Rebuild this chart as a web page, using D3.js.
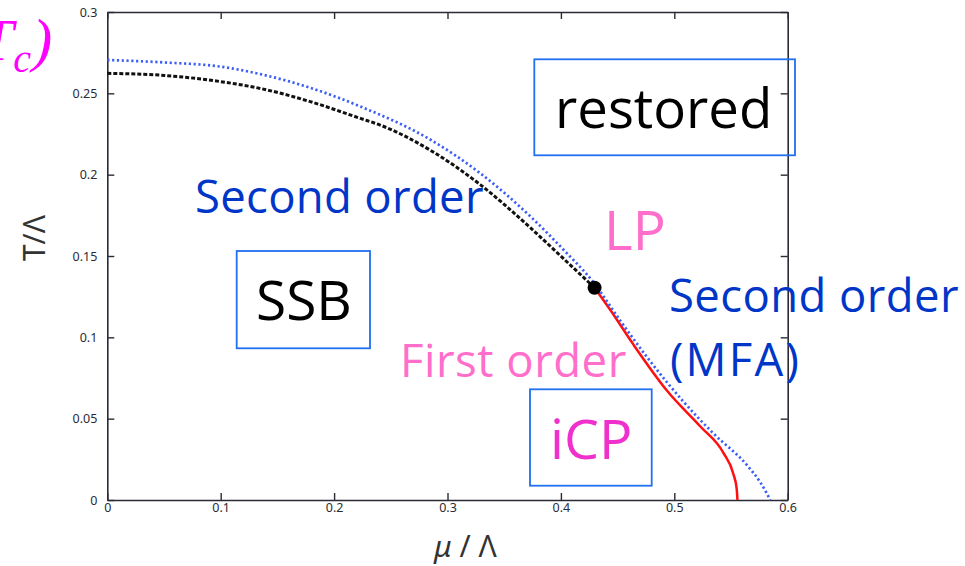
<!DOCTYPE html>
<html>
<head>
<meta charset="utf-8">
<script src="https://cdn.jsdelivr.net/npm/d3@7"></script>
<style>
  html, body { margin: 0; padding: 0; background: #fff; }
  svg { display: block; }
</style>
</head>
<body>
<svg id="chart" width="965" height="566"></svg>
<script>
// Axis ticks
const muTicks = [0, 0.1, 0.2, 0.3, 0.4, 0.5, 0.6];
const muTickLabels = ["0", "0.1", "0.2", "0.3", "0.4", "0.5", "0.6"];
const tTicks = [0, 0.05, 0.1, 0.15, 0.2, 0.25, 0.3];
const tTickLabels = ["0", "0.05", "0.1", "0.15", "0.2", "0.25", "0.3"];

// Second-order line, mean-field approximation (blue dotted)
const mfaMu = [0, 0.05, 0.1, 0.135, 0.179, 0.2232, 0.2847, 0.3288, 0.3730, 0.4021, 0.4286, 0.4524, 0.4760, 0.4922, 0.5080, 0.5345, 0.5645, 0.5759, 0.5847];
const mfaT  = [0.2705, 0.2690, 0.2664, 0.2618, 0.2534, 0.2419, 0.2216, 0.2009, 0.1744, 0.1540, 0.1339, 0.1102, 0.0878, 0.0735, 0.0605, 0.0409, 0.0211, 0.0108, 0];

// Second-order line (black dashed), ends at the Lifshitz point
const secondMu = [0, 0.05, 0.1, 0.135, 0.179, 0.2232, 0.2406, 0.2847, 0.3288, 0.3730, 0.4021, 0.4297];
const secondT  = [0.2623, 0.2610, 0.2572, 0.2530, 0.2449, 0.2346, 0.2305, 0.2151, 0.1939, 0.1674, 0.1485, 0.1305];

// First-order line (red solid)
const firstMu = [0.4297, 0.4436, 0.4640, 0.4938, 0.5230, 0.5433, 0.5521, 0.5550, 0.5557];
const firstT  = [0.1305, 0.1168, 0.0955, 0.0670, 0.0452, 0.0290, 0.0160, 0.0070, 0];

// Lifshitz point
const lpMu = [0.4297];
const lpT  = [0.1305];

const svg = d3.select("#chart");
const x = d3.scaleLinear().domain([0, 0.6]).range([107.3, 787.7]);
const y = d3.scaleLinear().domain([0, 0.3]).range([500, 12]);

const axisColor = "#2b2b35";
const tickFont = "Noto Sans, sans-serif";

function styleAxis(g) {
  g.select(".domain").attr("stroke", axisColor).attr("stroke-width", 1.6);
  g.selectAll(".tick line").attr("stroke", axisColor).attr("stroke-width", 1.4);
  g.selectAll(".tick text").attr("fill", axisColor).attr("font-family", tickFont).attr("font-size", 12.5);
}

svg.append("g").attr("transform", `translate(0,${y(0)})`)
  .call(d3.axisBottom(x).tickValues(muTicks).tickFormat((d, i) => muTickLabels[i]).tickSizeInner(-7).tickSizeOuter(0).tickPadding(3))
  .call(styleAxis);
svg.append("g").attr("transform", `translate(${x(0)},0)`)
  .call(d3.axisLeft(y).tickValues(tTicks).tickFormat((d, i) => tTickLabels[i]).tickSizeInner(-7).tickSizeOuter(0).tickPadding(10))
  .call(styleAxis);
svg.append("g").attr("transform", `translate(0,${y(0.3)})`)
  .call(d3.axisTop(x).tickValues(muTicks).tickFormat("").tickSizeInner(-7).tickSizeOuter(0))
  .call(styleAxis);
svg.append("g").attr("transform", `translate(${x(0.6)},0)`)
  .call(d3.axisRight(y).tickValues(tTicks).tickFormat("").tickSizeInner(-7).tickSizeOuter(0))
  .call(styleAxis);

// Axis titles
svg.append("text")
  .attr("transform", `translate(45,${238}) rotate(-90)`)
  .attr("text-anchor", "middle")
  .attr("font-family", tickFont).attr("font-size", 30).attr("fill", "#333")
  .text("T/Λ");
const xt = svg.append("text")
  .attr("x", 434).attr("y", 557)
  .attr("font-family", tickFont).attr("font-size", 30).attr("fill", "#333");
xt.append("tspan").attr("font-style", "italic").text("μ");
xt.append("tspan").text(" / Λ");

// Phase boundaries
const line = d3.line().x(d => x(d[0])).y(d => y(d[1])).curve(d3.curveMonotoneX);
const zip = (a, b) => a.map((v, i) => [v, b[i]]);

svg.append("path").datum(zip(secondMu, secondT))
  .attr("d", line).attr("fill", "none")
  .attr("stroke", "#111").attr("stroke-width", 3).attr("stroke-dasharray", "4,2");
svg.append("path").datum(zip(firstMu, firstT))
  .attr("d", line).attr("fill", "none")
  .attr("stroke", "#ff1010").attr("stroke-width", 2.5);
svg.append("path").datum(zip(mfaMu, mfaT))
  .attr("d", line).attr("fill", "none")
  .attr("stroke", "#3d5ef5").attr("stroke-width", 2.7).attr("stroke-dasharray", "2.2,2.6");

svg.selectAll("circle.lp").data(zip(lpMu, lpT)).join("circle")
  .attr("class", "lp")
  .attr("cx", d => x(d[0])).attr("cy", d => y(d[1])).attr("r", 7)
  .attr("fill", "#000");

// Region boxes
const boxColor = "#2070f0";
function box(x0, y0, x1, y1) {
  svg.append("rect").attr("x", x0).attr("y", y0).attr("width", x1 - x0).attr("height", y1 - y0)
    .attr("fill", "none").attr("stroke", boxColor).attr("stroke-width", 1.8);
}
box(534.3, 59.3, 795, 155.3);
box(236.7, 251, 370, 348.3);
box(530, 389.3, 651.7, 485.7);

// Annotations
const annFont = "Open Sans, sans-serif";
function label(txt, px, py, size, color, spacing) {
  return svg.append("text").attr("x", px).attr("y", py)
    .attr("font-family", annFont).attr("font-size", size).attr("fill", color)
    .attr("letter-spacing", spacing || 0)
    .text(txt);
}
label("restored", 555, 128.3, 54.5, "#000");
label("SSB", 256, 320, 55, "#000");
label("Second order", 195, 213.3, 45.5, "#0036c8", 0.3);
label("Second order", 669, 312, 45.5, "#0036c8", 0.4);
label("(MFA)", 670, 376, 45.5, "#0036c8", 2.2);
label("LP", 604, 250, 55, "#ff6ecb");
label("First order", 400, 376.7, 45.5, "#ff6ecb", 0.5);
label("iCP", 550, 459.3, 55.5, "#f030cc");

// Critical temperature label, partly outside the left edge
const tc = svg.append("text").attr("x", -40).attr("y", 60)
  .attr("font-family", "Liberation Serif, serif").attr("font-style", "italic")
  .attr("font-size", 60).attr("fill", "#ff00ff");
tc.append("tspan").text("(T");
tc.append("tspan").attr("font-size", 40).attr("dy", 12).text("c");
tc.append("tspan").attr("dy", -12).attr("dx", 1).text(")");
</script>
</body>
</html>
